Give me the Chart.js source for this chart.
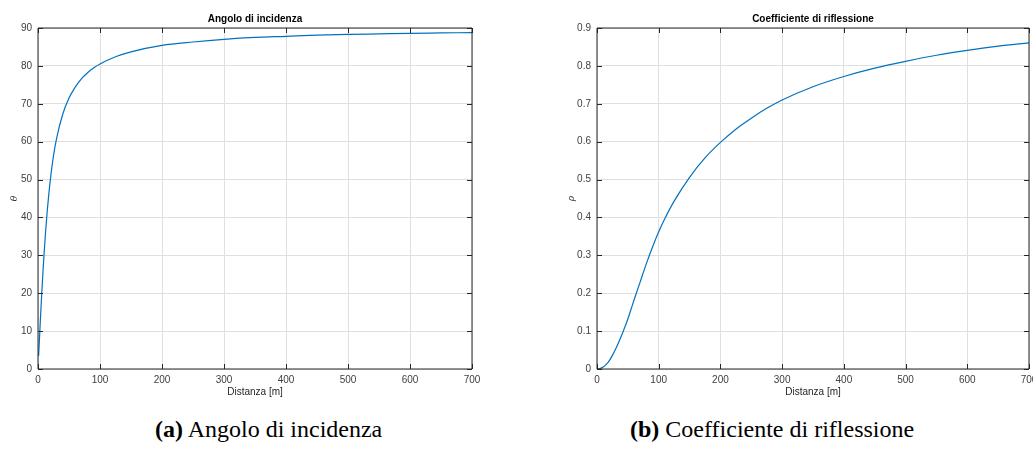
<!DOCTYPE html>
<html>
<head>
<meta charset="utf-8">
<script src="https://cdn.jsdelivr.net/npm/chart.js@4"></script>
<style>
  html, body { margin: 0; padding: 0; background: #fff; overflow: hidden; }
  body { width: 1033px; height: 456px; position: relative; }
  canvas { position: absolute; top: 0; }
  #chartA { left: 0; }
  #chartB { left: 557px; }
  .caption {
    position: absolute; top: 416px;
    font-family: "Liberation Serif", serif; font-size: 24px; color: #000;
    white-space: nowrap;
  }
  .caption b { font-weight: bold; }
  #capA { left: 155px; }
  #capB { left: 630px; }
</style>
</head>
<body>
<canvas id="chartA" width="500" height="400"></canvas>
<canvas id="chartB" width="500" height="400"></canvas>
<div class="caption" id="capA"><b>(a)</b> Angolo di incidenza</div>
<div class="caption" id="capB"><b>(b)</b> Coefficiente di riflessione</div>
<script>
// Distance samples [m] and values
const distA = [1, 2, 3, 4, 5, 6, 8, 10, 12, 15, 20, 25, 30, 40, 50, 60, 70, 80, 90, 100,
               125, 150, 200, 250, 300, 350, 400, 450, 500, 550, 600, 650, 700];
const theta = [3.5, 6.8, 10.2, 13.5, 16.7, 19.8, 25.6, 30.9, 35.7, 41.9, 50.1, 56.3, 60.9,
               67.3, 71.5, 74.4, 76.6, 78.2, 79.5, 80.5, 82.4, 83.7, 85.4, 86.3, 87.0,
               87.5, 87.8, 88.1, 88.3, 88.45, 88.6, 88.7, 88.8];

const distB = [1, 5, 10, 15, 20, 25, 30, 35, 40, 45, 50, 55, 60, 70, 80, 90, 100, 110, 125,
               150, 175, 200, 225, 250, 275, 300, 350, 400, 450, 500, 550, 600, 650, 700];
const rho = [0, 0.001, 0.005, 0.012, 0.022, 0.036, 0.052, 0.07, 0.089, 0.11, 0.132, 0.157,
             0.182, 0.23, 0.278, 0.322, 0.362, 0.397, 0.443, 0.506, 0.557, 0.598, 0.633,
             0.662, 0.688, 0.71, 0.745, 0.772, 0.794, 0.812, 0.828, 0.841, 0.852, 0.861];

const xTicks = [0, 100, 200, 300, 400, 500, 600, 700];
const yTicksA = [0, 10, 20, 30, 40, 50, 60, 70, 80, 90];
const yTicksB = [0, 0.1, 0.2, 0.3, 0.4, 0.5, 0.6, 0.7, 0.8, 0.9];

const tickFont = { family: 'Liberation Sans, Arial, sans-serif', size: 10 };
const axisColor = '#262626';

// MATLAB style box with inward ticks and title above the axes
const matlabBox = {
    id: 'matlabBox',
    afterDraw(chart, args, opts) {
        const ctx = chart.ctx;
        const a = chart.chartArea;
        const xs = chart.scales.x, ys = chart.scales.y;
        ctx.save();
        ctx.strokeStyle = axisColor;
        ctx.lineWidth = 1;
        ctx.beginPath();
        ctx.rect(a.left, a.top, a.right - a.left, a.bottom - a.top);
        const tl = 5;
        xs.ticks.forEach(t => {
            const px = Math.round(xs.getPixelForValue(t.value)) + 0.5;
            ctx.moveTo(px, a.bottom); ctx.lineTo(px, a.bottom - tl);
            ctx.moveTo(px, a.top); ctx.lineTo(px, a.top + tl);
        });
        ys.ticks.forEach(t => {
            const py = Math.round(ys.getPixelForValue(t.value)) + 0.5;
            ctx.moveTo(a.left, py); ctx.lineTo(a.left + tl, py);
            ctx.moveTo(a.right, py); ctx.lineTo(a.right - tl, py);
        });
        ctx.stroke();
        ctx.fillStyle = '#000';
        ctx.font = 'bold 10px Liberation Sans, Arial, sans-serif';
        ctx.textAlign = 'center';
        ctx.textBaseline = 'middle';
        ctx.fillText(opts.text, (a.left + a.right) / 2, a.top - 9);
        ctx.restore();
    }
};

function makeChart(id, xs, ys, yTicks, yMax, yLabel, title, yWidth) {
    const points = xs.map((x, i) => ({ x: x, y: ys[i] }));
    return new Chart(document.getElementById(id), {
        type: 'line',
        data: {
            datasets: [{
                data: points,
                borderColor: '#0072BD',
                borderWidth: 1.2,
                pointRadius: 0,
                fill: false,
                cubicInterpolationMode: 'monotone'
            }]
        },
        options: {
            responsive: false,
            animation: false,
            layout: { padding: { top: 28, right: 28, left: 0, bottom: 0 } },
            plugins: {
                legend: { display: false },
                tooltip: { enabled: false },
                matlabBox: { text: title }
            },
            scales: {
                x: {
                    type: 'linear',
                    min: 0, max: 700,
                    afterBuildTicks: s => { s.ticks = xTicks.map(v => ({ value: v })); },
                    afterFit: s => { s.height = 31; },
                    grid: { color: '#dfdfdf', drawTicks: false },
                    border: { display: false },
                    ticks: { font: tickFont, color: '#404040', padding: 5, maxRotation: 0 },
                    title: {
                        display: true, text: 'Distanza [m]',
                        font: tickFont, color: '#262626',
                        padding: { top: 0, bottom: 2 }
                    }
                },
                y: {
                    min: 0, max: yMax,
                    afterBuildTicks: s => { s.ticks = yTicks.map(v => ({ value: v })); },
                    afterFit: s => { s.width = yWidth; },
                    grid: { color: '#dfdfdf', drawTicks: false },
                    border: { display: false },
                    ticks: { font: tickFont, color: '#404040', padding: 6 },
                    title: {
                        display: true, text: yLabel,
                        font: { family: 'DejaVu Serif, serif', size: 9, style: 'italic' },
                        color: '#262626',
                        padding: { top: 9, bottom: 0 }
                    }
                }
            }
        },
        plugins: [matlabBox]
    });
}

makeChart('chartA', distA, theta, yTicksA, 90, 'θ', 'Angolo di incidenza', 38);
makeChart('chartB', distB, rho, yTicksB, 0.9, 'ρ', 'Coefficiente di riflessione', 40);
</script>
</body>
</html>
